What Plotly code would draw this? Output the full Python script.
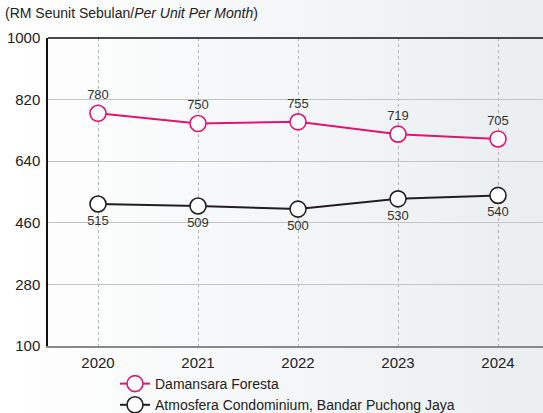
import base64
import plotly.graph_objects as go

years = ["2020", "2021", "2022", "2023", "2024"]
damansara = [780, 750, 755, 719, 705]
atmosfera = [515, 509, 500, 530, 540]
y_ticks = [100, 280, 460, 640, 820, 1000]

PINK = "#e2146f"
DARK = "#231f20"
FONT = "Liberation Sans, Arial, sans-serif"

W, H = 543, 413
L, T, B = 48, 38, 67

# soft left-to-right page wash behind the white plotting area
svg = (
    f'<svg xmlns="http://www.w3.org/2000/svg" width="{W}" height="{H}">'
    '<defs><linearGradient id="g" x1="0" y1="0" x2="1" y2="0">'
    '<stop offset="0" stop-color="#ffffff"/>'
    '<stop offset="0.45" stop-color="#f6f7f8"/>'
    '<stop offset="1" stop-color="#eaeef0"/>'
    '</linearGradient></defs>'
    f'<rect width="{W}" height="{H}" fill="url(#g)"/></svg>'
)
bg_uri = "data:image/svg+xml;base64," + base64.b64encode(svg.encode()).decode()
pw, ph = W - L, H - T - B

fig = go.Figure()

fig.add_trace(go.Scatter(
    x=years, y=damansara, name="Damansara Foresta",
    mode="lines+markers+text",
    line=dict(color=PINK, width=2),
    marker=dict(symbol="circle", size=16, color="white",
                line=dict(color=PINK, width=1.6)),
    text=[str(v) for v in damansara], textposition="top center",
    textfont=dict(family=FONT, size=13, color="#333333"),
    cliponaxis=False,
))
fig.add_trace(go.Scatter(
    x=years, y=atmosfera, name="Atmosfera Condominium, Bandar Puchong Jaya",
    mode="lines+markers+text",
    line=dict(color=DARK, width=2),
    marker=dict(symbol="circle", size=16, color="white",
                line=dict(color=DARK, width=1.6)),
    text=[str(v) for v in atmosfera], textposition="bottom center",
    textfont=dict(family=FONT, size=13, color="#333333"),
    cliponaxis=False,
))

fig.update_layout(
    width=W, height=H,
    margin=dict(l=L, r=0, t=T, b=B, autoexpand=False),
    paper_bgcolor="white",
    plot_bgcolor="white",
    font=dict(family=FONT, size=13, color="#222222"),
    showlegend=True,
    legend=dict(
        orientation="v", xref="container", yref="container",
        x=115 / W, y=1 - 368 / H, xanchor="left", yanchor="top",
        bgcolor="rgba(0,0,0,0)", font=dict(family=FONT, size=14, color="#222222"),
        itemsizing="trace", tracegroupgap=0,
    ),
    title=dict(
        text="(RM Seunit Sebulan/<i>Per Unit Per Month</i>)",
        xref="container", yref="container", x=5 / W, y=1 - 13 / H,
        xanchor="left", yanchor="middle",
        font=dict(family=FONT, size=14, color="#222222"),
    ),
    images=[dict(source=bg_uri, xref="paper", yref="paper",
                 x=-L / pw, y=1 + T / ph, sizex=W / pw, sizey=H / ph,
                 xanchor="left", yanchor="top", sizing="stretch", layer="below")],
    shapes=[dict(type="line", xref="paper", yref="paper",
                 x0=0, x1=1, y0=1, y1=1, line=dict(color="#111111", width=1.5))],
)

fig.update_xaxes(
    type="category", range=[-0.5, 4.45],
    showgrid=True, gridcolor="#b4b4b4", griddash="3px,3px", gridwidth=1,
    showline=True, linecolor="#8a8a8a", linewidth=1.5,
    ticks="", ticklabelstandoff=2,
    tickfont=dict(family=FONT, size=15, color="#222222"),
    fixedrange=True,
)
fig.update_yaxes(
    range=[100, 1000], tickvals=y_ticks, ticktext=[str(v) for v in y_ticks],
    showgrid=True, gridcolor="#c4c4c4", gridwidth=1,
    showline=True, linecolor="#111111", linewidth=1.5,
    zeroline=False, ticks="", ticklabelstandoff=3,
    tickfont=dict(family=FONT, size=15, color="#222222"),
    fixedrange=True,
)

fig.write_html("out.html")
